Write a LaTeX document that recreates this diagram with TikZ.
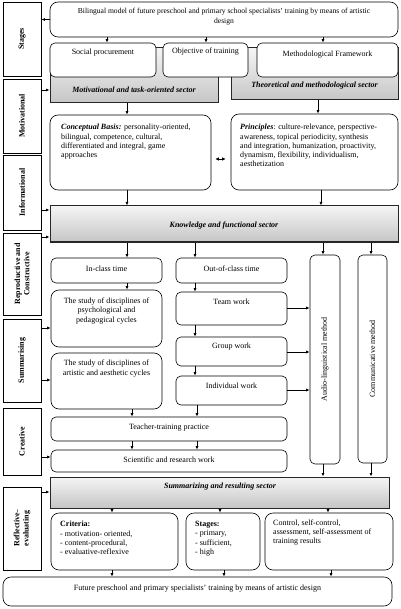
\documentclass[tikz,border=0pt]{standalone}
\usepackage{fontspec}
\setmainfont{Liberation Serif}
\usetikzlibrary{arrows.meta}
\begin{document}
\begin{tikzpicture}[x=1pt,y=-1pt,
 box/.style={draw, rounded corners=5pt, line width=0.6pt, fill=white, inner sep=0pt},
 bigbox/.style={box, rounded corners=8pt},
 side/.style={draw, line width=0.9pt, inner sep=0pt, minimum width=38pt},
 sector/.style={draw=black!85, line width=1pt, top color=gray!8, bottom color=gray!45, inner sep=0pt},
 txt/.style={font=\fontsize{8}{9.3}\selectfont, align=center, inner sep=0pt},
 ltxt/.style={txt, align=left, anchor=north west},
 stxt/.style={txt, font=\fontsize{8}{9.3}\selectfont\bfseries, rotate=90},
 sectxt/.style={txt, font=\fontsize{8}{9.3}\selectfont\bfseries\itshape},
 arr/.style={-{Latex[length=3.5pt,width=3pt]}, line width=0.7pt},
 dbl/.style={{Latex[length=3.5pt,width=3.5pt]}-{Latex[length=3.5pt,width=3.5pt]}, line width=0.8pt},
]
\useasboundingbox (0,0) rectangle (400,609);

% left column
\node[side, minimum height=74pt] (stagesL) at (22,39) {};
\node[stxt] (stagesLT) at (stagesL) {Stages};
\node[side, minimum height=74pt] (motL) at (22,116) {};
\node[stxt] (motLT) at (motL) {Motivational};
\node[side, minimum height=75pt] (infoL) at (22,192.5) {};
\node[stxt] (infoLT) at (infoL) {Informational};
\node[side, minimum height=82pt] (reprL) at (22,274) {};
\node[stxt] (reprLT) at (reprL) {Reproductive and\\Constructive};
\node[side, minimum height=83pt] (summL) at (22,360.5) {};
\node[stxt] (summLT) at (summL) {Summarising};
\node[side, minimum height=67pt] (creaL) at (22,441.5) {};
\node[stxt] (creaLT) at (creaL) {Creative};
\node[side, minimum height=83pt] (reflL) at (22,528.5) {};
\node[stxt] (reflLT) at (reflL) {Reflective-\\evaluating};

% top
\node[bigbox, minimum width=348pt, minimum height=35pt] (top) at (224,19.5) {};
\node[txt, font=\fontsize{7.6}{10}\selectfont] (topT) at (224,17) {Bilingual model of future preschool and primary school specialists' training by means of artistic\\design};

% sectors (behind)
\node[sector, minimum width=168pt, minimum height=55pt] (motsec) at (134,75.5) {};
\node[sector, minimum width=167pt, minimum height=52pt] (thesec) at (314.5,74) {};
\node[sectxt] (motsecT) at (134,90) {Motivational and task-oriented sector};
\node[sectxt] (thesecT) at (314.5,86) {Theoretical and methodological sector};

% row of three
\node[box, minimum width=106pt, minimum height=34pt] (social) at (103,60) {};
\node[txt] (socialT) at (103,53) {Social procurement};
\node[box, minimum width=85pt, minimum height=34pt] (objective) at (205.5,60) {};
\node[txt] (objectiveT) at (205.5,52) {Objective of training};
\node[box, minimum width=141pt, minimum height=34pt] (method) at (327.5,60) {};
\node[txt] (methodT) at (327.5,55) {Methodological Framework};

% conceptual / principles
\node[bigbox, minimum width=161pt, minimum height=75pt] (concept) at (130.5,152.5) {};
\node[ltxt] (conceptT) at (61,124) {\textbf{\textit{Conceptual Basis:}} personality-oriented,\\bilingual, competence, cultural,\\differentiated and integral, game\\approaches};
\node[bigbox, minimum width=167pt, minimum height=76pt] (principles) at (314.5,152) {};
\node[ltxt] (principlesT) at (240,124) {\textbf{\textit{Principles}}: culture-relevance, perspective-\\awareness, topical periodicity, synthesis\\and integration, humanization, proactivity,\\dynamism, flexibility, individualism,\\aesthetization};

% knowledge sector
\node[sector, minimum width=348pt, minimum height=36pt] (knowledge) at (224,224) {};
\node[sectxt] (knowledgeT) at (224,226) {Knowledge and functional sector};

% middle
\node[box, minimum width=111pt, minimum height=25pt] (inclass) at (106.5,270.5) {};
\node[txt] (inclassT) at (106.5,268.5) {In-class time};
\node[box, minimum width=111pt, minimum height=25pt] (outclass) at (231.5,270.5) {};
\node[txt] (outclassT) at (231.5,268.5) {Out-of-class time};
\node[bigbox, minimum width=111pt, minimum height=57pt] (psych) at (106.5,318.5) {};
\node[txt] (psychT) at (106.5,311) {The study of disciplines of\\psychological and\\pedagogical cycles};
\node[box, minimum width=111pt, minimum height=33pt] (team) at (231.5,308.5) {};
\node[txt] (teamT) at (231.5,302) {Team work};
\node[box, minimum width=111pt, minimum height=29pt] (group) at (231.5,351.5) {};
\node[txt] (groupT) at (231.5,347) {Group work};
\node[box, minimum width=111pt, minimum height=29pt] (indiv) at (231.5,390.5) {};
\node[txt] (indivT) at (231.5,386) {Individual work};
\node[bigbox, minimum width=111pt, minimum height=56pt] (artistic) at (106.5,381) {};
\node[txt] (artisticT) at (106.5,368.5) {The study of disciplines of\\artistic and aesthetic cycles};

\node[box, minimum width=30pt, minimum height=209pt] (audio) at (325,359.5) {};
\node[txt, rotate=90] (audioT) at (325,359.5) {Audio-linguistical method};
\node[box, minimum width=29pt, minimum height=208pt] (comm) at (372.5,359) {};
\node[txt, rotate=90] (commT) at (372.5,359) {Communicative method};

\node[box, minimum width=236pt, minimum height=24pt] (teacher) at (169,429) {};
\node[txt] (teacherT) at (169,427.5) {Teacher-training practice};
\node[box, minimum width=236pt, minimum height=22pt] (scientific) at (169,461) {};
\node[txt] (scientificT) at (169,459.5) {Scientific and research work};

% summarizing
\node[sector, minimum width=339pt, minimum height=31pt] (summsec) at (219.5,492.5) {};
\node[sectxt] (summsecT) at (220,486.5) {Summarizing and resulting sector};

\node[bigbox, minimum width=127pt, minimum height=57pt] (criteria) at (114.5,541.5) {};
\node[ltxt] (criteriaT) at (60,521) {\textbf{Criteria:}\\- motivation- oriented,\\- content-procedural,\\- evaluative-reflexive};
\node[bigbox, minimum width=74pt, minimum height=57pt] (stagesB) at (223,541.5) {};
\node[ltxt] (stagesBT) at (195,521) {\textbf{Stages:}\\- primary,\\- sufficient,\\- high};
\node[bigbox, minimum width=128pt, minimum height=57pt] (control) at (329,541.5) {};
\node[ltxt] (controlT) at (273,519.5) {Control, self-control,\\assessment, self-assessment of\\training results};

\node[bigbox, minimum width=389pt, minimum height=29pt] (final) at (197.5,591.5) {};
\node[txt] (finalT) at (197.5,588.5) {Future preschool and primary specialists' training by means of artistic design};

% arrows
\draw[arr] (top.west) -- (top.west -| stagesL.east);
\draw[arr] (top.south -| 107,0) -- (social.north -| 107,0);
\draw[arr] (top.south -| 206,0) -- (objective.north -| 206,0);
\draw[arr] (top.south -| 323,0) -- (method.north -| 323,0);
\draw[arr] (motL.east |- 0,90) -- (motsec.west |- 0,90);
\draw[arr] (motsec.south -| 127,0) -- (concept.north -| 127,0);
\draw[arr] (thesec.south -| 318,0) -- (principles.north -| 318,0);
\draw[dbl, shorten <=4pt, shorten >=5pt] (concept.east |- 0,159) -- (principles.west |- 0,159);
\draw[arr] (concept.south -| 127,0) -- (knowledge.north -| 127,0);
\draw[arr] (principles.south -| 321,0) -- (knowledge.north -| 321,0);
\draw[arr] (infoL.east |- 0,210) -- (knowledge.west |- 0,210);
\draw[arr] (reprL.east |- 0,237) -- (knowledge.west |- 0,237);
\draw[arr] (knowledge.south -| 127,0) -- (inclass.north -| 127,0);
\draw[arr] (knowledge.south -| 195,0) -- (outclass.north -| 195,0);
\draw[arr] (knowledge.south -| 323,0) -- (audio.north -| 323,0);
\draw[arr] (knowledge.south -| 371,0) -- (comm.north -| 371,0);
\draw[arr] (inclass.south -| 127,0) -- (psych.north -| 127,0);
\draw[arr] (outclass.south -| 195,0) -- (team.north -| 195,0);
\draw[arr] (team.south -| 195,0) -- (group.north -| 195,0);
\draw[arr] (group.south -| 195,0) -- (indiv.north -| 195,0);
\draw[arr] (summL.east |- 0,328) -- (psych.west |- 0,328);
\draw[arr] (summL.east |- 0,380) -- (artistic.west |- 0,380);
\draw[arr] (team.east |- 0,308) -- (audio.west |- 0,308);
\draw[arr] (group.east |- 0,352) -- (audio.west |- 0,352);
\draw[arr] (indiv.east |- 0,390) -- (audio.west |- 0,390);
\draw[arr] (artistic.south -| 132,0) -- (teacher.north -| 132,0);
\draw[arr] (indiv.south -| 197,0) -- (teacher.north -| 197,0);
\draw[arr] (teacher.south -| 132,0) -- (scientific.north -| 132,0);
\draw[arr] (teacher.south -| 197,0) -- (scientific.north -| 197,0);
\draw[arr] (creaL.east |- 0,457) -- (scientific.west |- 0,457);
\draw[arr] (audio.south -| 323,0) -- (summsec.north -| 323,0);
\draw[arr] (comm.south -| 371,0) -- (summsec.north -| 371,0);
\draw[arr] (reflL.east |- 0,492) -- (summsec.west |- 0,492);
\draw[arr] (summsec.south -| 112,0) -- (criteria.north -| 112,0);
\draw[arr] (summsec.south -| 220,0) -- (stagesB.north -| 220,0);
\draw[arr] (summsec.south -| 328,0) -- (control.north -| 328,0);
\draw[arr] (criteria.south -| 112,0) -- (final.north -| 112,0);
\draw[arr] (stagesB.south -| 224,0) -- (final.north -| 224,0);
\draw[arr] (control.south -| 331,0) -- (final.north -| 331,0);
\end{tikzpicture}
\end{document}
